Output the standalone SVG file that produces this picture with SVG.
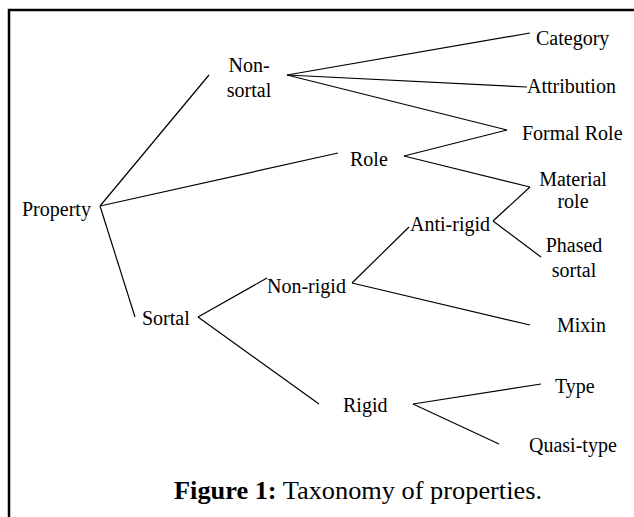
<svg xmlns="http://www.w3.org/2000/svg" width="634" height="517" viewBox="0 0 634 517">
<style>
.t{font-family:"Liberation Serif","Times New Roman",serif;font-size:20px;fill:#000}
.c{text-anchor:middle}
.e line{stroke:#000;stroke-width:1.2;fill:none}
.cap{font-family:"Liberation Serif","Times New Roman",serif;font-size:25px;fill:#000}
</style>
<rect width="634" height="517" fill="#fff"/>
<path d="M9 517 V10 H634" fill="none" stroke="#000" stroke-width="2.5"/>
<g id="connectors" class="e">
<line x1="100" y1="206" x2="209" y2="75"/>
<line x1="100" y1="206" x2="338" y2="153"/>
<line x1="100" y1="206" x2="135" y2="317"/>
<line x1="287" y1="75" x2="530" y2="33"/>
<line x1="287" y1="75" x2="527" y2="87"/>
<line x1="287" y1="75" x2="507" y2="130"/>
<line x1="404" y1="156" x2="507" y2="130"/>
<line x1="404" y1="156" x2="530" y2="187"/>
<line x1="530" y1="187" x2="493" y2="221"/>
<line x1="493" y1="221" x2="541" y2="257"/>
<line x1="409" y1="227" x2="352" y2="283"/>
<line x1="352" y1="283" x2="530" y2="325"/>
<line x1="198" y1="317" x2="267" y2="278"/>
<line x1="198" y1="317" x2="319" y2="404"/>
<line x1="413" y1="404" x2="541" y2="384"/>
<line x1="413" y1="404" x2="499" y2="444"/>
</g>
<g id="property"><text class="t" x="22" y="216">Property</text></g>
<g id="non-sortal"><text class="t c" x="249" y="72">Non-</text><text class="t c" x="249" y="97">sortal</text></g>
<g id="role"><text class="t" x="350" y="166">Role</text></g>
<g id="sortal"><text class="t" x="142" y="325">Sortal</text></g>
<g id="non-rigid"><text class="t" x="267" y="293">Non-rigid</text></g>
<g id="anti-rigid"><text class="t" x="410" y="231">Anti-rigid</text></g>
<g id="rigid"><text class="t" x="343" y="412">Rigid</text></g>
<g id="category"><text class="t" x="536" y="45">Category</text></g>
<g id="attribution"><text class="t" x="527" y="93">Attribution</text></g>
<g id="formal-role"><text class="t" x="522" y="140">Formal Role</text></g>
<g id="material-role"><text class="t c" x="573" y="186">Material</text><text class="t c" x="573" y="208">role</text></g>
<g id="phased-sortal"><text class="t c" x="574" y="252">Phased</text><text class="t c" x="574" y="277">sortal</text></g>
<g id="mixin"><text class="t" x="557" y="332">Mixin</text></g>
<g id="type"><text class="t" x="555" y="393">Type</text></g>
<g id="quasi-type"><text class="t" x="529" y="452">Quasi-type</text></g>
<g id="caption"><text class="cap" x="174" y="499" textLength="368" lengthAdjust="spacingAndGlyphs"><tspan font-weight="bold">Figure 1:</tspan> Taxonomy of properties.</text></g>
</svg>
